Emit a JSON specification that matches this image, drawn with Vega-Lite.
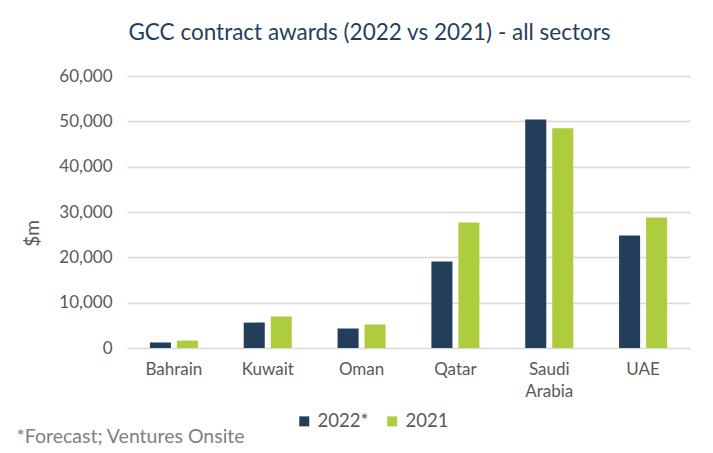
{
  "$schema": "https://vega.github.io/schema/vega-lite/v6.json",
  "width": 563,
  "height": 272,
  "autosize": {"type": "none"},
  "padding": {"left": 127, "top": 76, "right": 23, "bottom": 105},
  "background": "white",
  "title": {
    "text": "GCC contract awards (2022 vs 2021) - all sectors",
    "anchor": "middle",
    "dx": -39,
    "offset": 23,
    "font": "Lato",
    "fontSize": 22.5,
    "fontWeight": "normal",
    "color": "#243F5E"
  },
  "data": {
    "values": [
      {"country": "Bahrain", "year": "2022*", "value": 1200},
      {"country": "Bahrain", "year": "2021", "value": 1650},
      {"country": "Kuwait", "year": "2022*", "value": 5600},
      {"country": "Kuwait", "year": "2021", "value": 6950},
      {"country": "Oman", "year": "2022*", "value": 4300},
      {"country": "Oman", "year": "2021", "value": 5200},
      {"country": "Qatar", "year": "2022*", "value": 19100},
      {"country": "Qatar", "year": "2021", "value": 27700},
      {"country": "Saudi Arabia", "year": "2022*", "value": 50400},
      {"country": "Saudi Arabia", "year": "2021", "value": 48500},
      {"country": "UAE", "year": "2022*", "value": 24800},
      {"country": "UAE", "year": "2021", "value": 28800}
    ]
  },
  "mark": {"type": "bar"},
  "encoding": {
    "x": {
      "field": "country",
      "type": "nominal",
      "sort": null,
      "scale": {"paddingInner": 0.488, "paddingOuter": 0.244},
      "axis": {
        "title": "*Forecast; Ventures Onsite",
        "titleX": -111,
        "titleY": 88,
        "titleAlign": "left",
        "titleBaseline": "middle",
        "titleAnchor": null,
        "titleFont": "Lato",
        "titleFontSize": 19.5,
        "titleFontWeight": "normal",
        "titleColor": "#7F7F7F",
        "labelAngle": 0,
        "labelExpr": "split(datum.label, ' ')",
        "labelFont": "Lato",
        "labelFontSize": 17,
        "labelColor": "#595959",
        "labelPadding": 13,
        "labelLineHeight": 22,
        "labelBaseline": "top",
        "domain": false,
        "ticks": false
      }
    },
    "xOffset": {
      "field": "year",
      "type": "nominal",
      "sort": ["2022*", "2021"],
      "scale": {"paddingInner": 0.22, "paddingOuter": 0}
    },
    "y": {
      "field": "value",
      "type": "quantitative",
      "scale": {"domain": [0, 60000], "nice": false},
      "axis": {
        "title": "$m",
        "titleX": -95,
        "titleY": 157,
        "titleAngle": -90,
        "titleAlign": "center",
        "titleBaseline": "middle",
        "titleFont": "Lato",
        "titleFontSize": 19,
        "titleFontWeight": "normal",
        "titleColor": "#595959",
        "values": [0, 10000, 20000, 30000, 40000, 50000, 60000],
        "format": ",d",
        "labelFont": "Lato",
        "labelFontSize": 17,
        "labelColor": "#595959",
        "labelPadding": 15,
        "domain": false,
        "ticks": false,
        "grid": true,
        "gridColor": "#D9D9D9",
        "gridWidth": 1.5
      }
    },
    "color": {
      "field": "year",
      "type": "nominal",
      "sort": ["2022*", "2021"],
      "scale": {"domain": ["2022*", "2021"], "range": ["#233E5B", "#ADCD3E"]},
      "legend": {
        "title": null,
        "orient": "none",
        "direction": "horizontal",
        "legendX": 168,
        "legendY": 336,
        "symbolType": "square",
        "symbolSize": 100,
        "symbolStrokeWidth": 0,
        "labelFont": "Lato",
        "labelFontSize": 18.5,
        "labelColor": "#595959",
        "labelOffset": 4,
        "columnPadding": 14
      }
    }
  },
  "config": {"view": {"stroke": null}}
}
